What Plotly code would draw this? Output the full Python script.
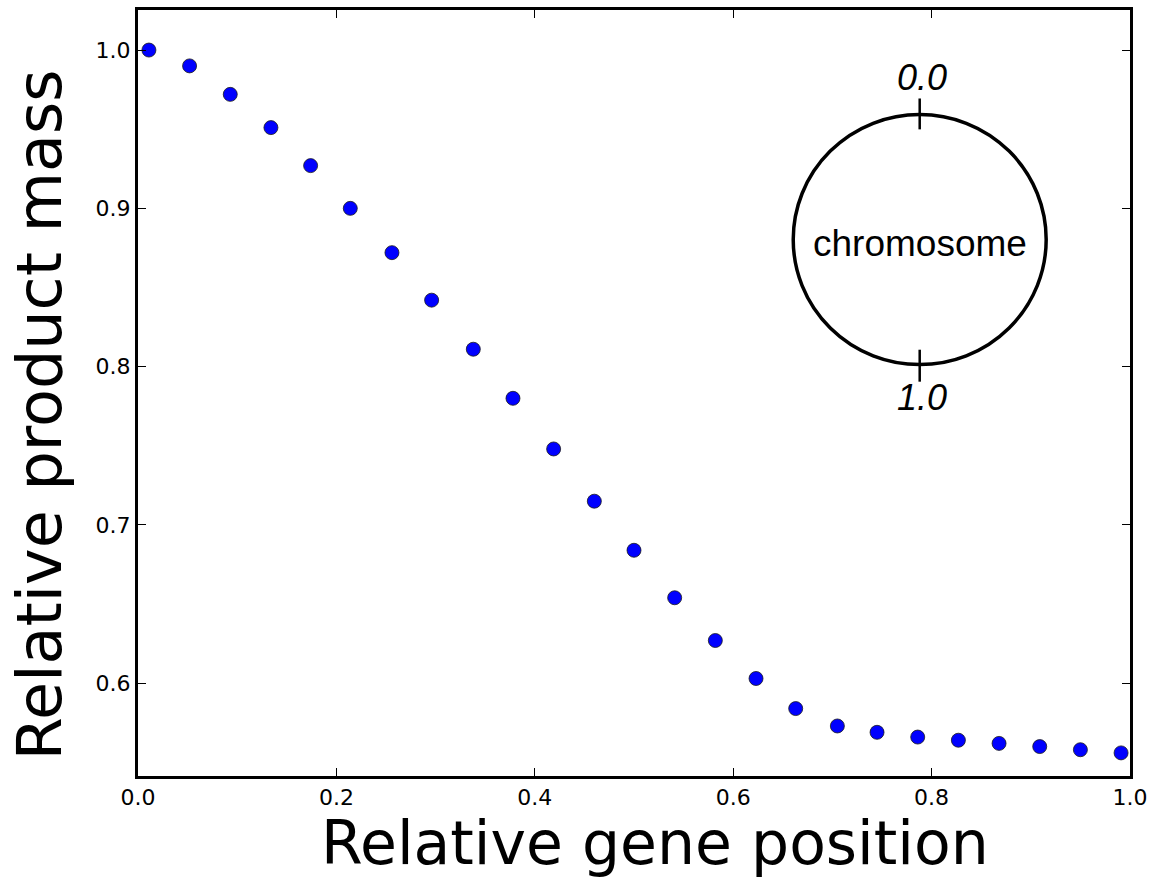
import plotly.graph_objects as go

# Data
gene_position = [0.011, 0.052, 0.093, 0.134, 0.174, 0.214, 0.256, 0.296, 0.338, 0.378,
                 0.419, 0.460, 0.500, 0.541, 0.582, 0.623, 0.663, 0.705, 0.745, 0.786,
                 0.827, 0.868, 0.909, 0.950, 0.991]
product_mass = [1.000, 0.990, 0.972, 0.951, 0.927, 0.900, 0.872, 0.842, 0.811, 0.780,
                0.748, 0.715, 0.684, 0.654, 0.627, 0.603, 0.584, 0.573, 0.569, 0.566,
                0.564, 0.562, 0.560, 0.558, 0.556]

x_ticks = [0.0, 0.2, 0.4, 0.6, 0.8, 1.0]
y_ticks = [0.6, 0.7, 0.8, 0.9, 1.0]

x_title = "Relative gene position"
y_title = "Relative product mass"
inset_label = "chromosome"
inset_start = "0.0"
inset_end = "1.0"

fig = go.Figure()
fig.add_trace(go.Scatter(
    x=gene_position, y=product_mass, mode="markers",
    marker=dict(size=14, color="#0000ff", line=dict(color="#1a1a1a", width=0.8)),
    showlegend=False, cliponaxis=False,
))

# chromosome inset (circle in data coords)
cx, cy = 0.788, 0.8803
rx, ry = 0.1275, 0.079
fig.add_shape(type="circle", xref="x", yref="y",
              x0=cx - rx, x1=cx + rx, y0=cy - ry, y1=cy + ry,
              line=dict(color="black", width=3.5))
fig.add_shape(type="line", xref="x", yref="y", x0=cx, x1=cx, y0=0.9694, y1=0.9499,
              line=dict(color="black", width=2.5))
fig.add_shape(type="line", xref="x", yref="y", x0=cx, x1=cx, y0=0.8107, y1=0.7905,
              line=dict(color="black", width=2.5))

fig.add_annotation(x=cx, y=0.8777, xref="x", yref="y", text=inset_label, showarrow=False,
                   font=dict(family="Liberation Sans", size=37, color="black"))
fig.add_annotation(x=cx + 0.002, y=0.9827, xref="x", yref="y", text="<i>" + inset_start + "</i>",
                   showarrow=False, font=dict(family="Liberation Sans", size=36, color="black"))
fig.add_annotation(x=cx + 0.002, y=0.7803, xref="x", yref="y", text="<i>" + inset_end + "</i>",
                   showarrow=False, font=dict(family="Liberation Sans", size=36, color="black"))

# axis titles
fig.add_annotation(x=-0.099, y=0.472, xref="paper", yref="paper", text=y_title, textangle=-90,
                   showarrow=False, xanchor="center", yanchor="middle",
                   font=dict(family="DejaVu Sans", size=62, color="black"))
fig.add_annotation(x=0.521, y=-0.088, xref="paper", yref="paper", text=x_title,
                   showarrow=False, xanchor="center", yanchor="middle",
                   font=dict(family="DejaVu Sans", size=60, color="black"))

axis_common = dict(showline=True, linecolor="black", linewidth=3, mirror="ticks",
                   ticks="inside", ticklen=8, tickwidth=1, tickcolor="black",
                   showgrid=False, zeroline=False, tickformat=".1f",
                   tickfont=dict(family="DejaVu Sans", size=22, color="black"))

fig.update_xaxes(range=[0, 1], tickvals=x_ticks, **axis_common)
fig.update_yaxes(range=[0.5414, 1.0253], tickvals=y_ticks, **axis_common)

fig.update_layout(
    width=1159, height=879,
    margin=dict(l=138, r=29, t=10, b=103, autoexpand=False),
    paper_bgcolor="white", plot_bgcolor="white",
    font=dict(family="DejaVu Sans", color="black"),
)

fig.write_html("out.html")
